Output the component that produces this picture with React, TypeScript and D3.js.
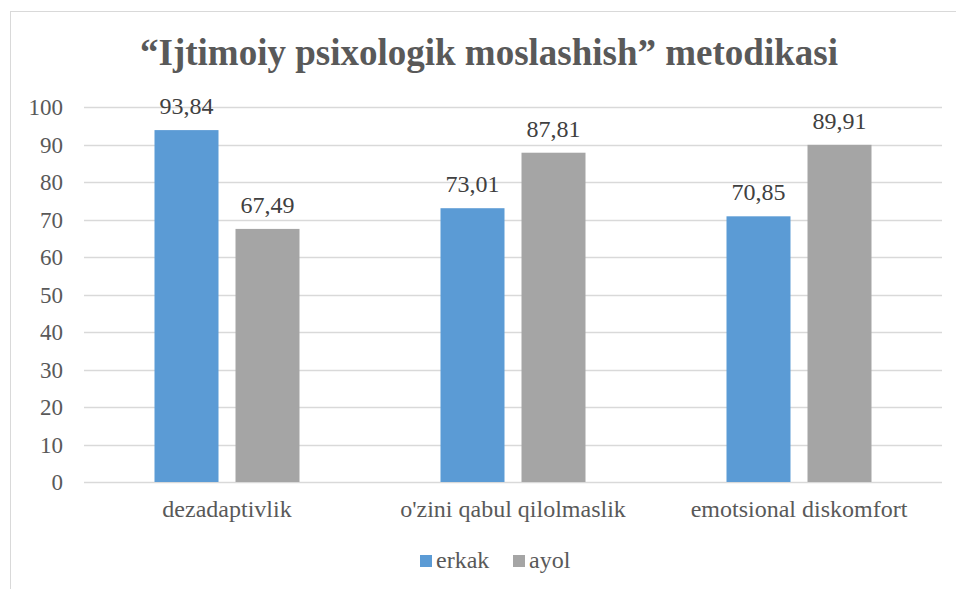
import React from "react";
import * as d3 from "d3";

const categories = ["dezadaptivlik", "o'zini qabul qilolmaslik", "emotsional diskomfort"];
const seriesNames = ["erkak", "ayol"];
const erkak = [93.84, 73.01, 70.85];
const ayol = [67.49, 87.81, 89.91];
const yTicks = [0, 10, 20, 30, 40, 50, 60, 70, 80, 90, 100];
const colors = ["#5B9BD5", "#A5A5A5"];

const W = 956;
const H = 589;
const FONT = "Liberation Serif";
const margin = { top: 107, right: 14, bottom: 107, left: 84 };

const App = () => {
  const x = d3
    .scaleBand()
    .domain(categories)
    .range([margin.left, W - margin.right]);

  const y = d3
    .scaleLinear()
    .domain([0, 100])
    .range([H - margin.bottom, margin.top]);

  const barW = 64;
  const gap = 17;
  const series = [erkak, ayol];
  const legendX = [420, 513];

  return (
    <svg
      width={W}
      height={H}
      style={{ position: "absolute", left: 0, top: 0, background: "#fff", fontFamily: FONT }}
    >
      {/* chart border */}
      <rect x={10.5} y={11.5} width={980} height={640} fill="#fff" stroke="#d9d9d9" />

      <text
        x={489}
        y={65}
        textAnchor="middle"
        fontFamily={FONT}
        fontWeight="bold"
        fontSize={37}
        fill="#595959"
      >
        “Ijtimoiy psixologik moslashish” metodikasi
      </text>

      {/* gridlines */}
      {yTicks.map((d) => (
        <line
          key={"g" + d}
          x1={margin.left}
          x2={W - margin.right}
          y1={Math.round(y(d)) + 0.5}
          y2={Math.round(y(d)) + 0.5}
          stroke="#d9d9d9"
          strokeWidth={1.3}
        />
      ))}

      {/* y tick labels */}
      {yTicks.map((d) => (
        <text
          key={"t" + d}
          x={63}
          y={y(d) + 8}
          textAnchor="end"
          fontFamily={FONT}
          fontSize={23}
          fill="#595959"
        >
          {d}
        </text>
      ))}

      {series.map((vals, si) => {
        const offset = si === 0 ? -gap / 2 - barW : gap / 2;
        return (
          <g key={"s" + si}>
            {vals.map((v, i) => {
              const bx = x(categories[i])! + x.bandwidth() / 2 + offset;
              return (
                <g key={i}>
                  <rect x={bx} y={y(v)} width={barW} height={y(0) - y(v)} fill={colors[si]} />
                  <text
                    x={bx + barW / 2}
                    y={y(v) - 16}
                    textAnchor="middle"
                    fontFamily={FONT}
                    fontSize={24}
                    fill="#404040"
                  >
                    {v.toFixed(2).replace(".", ",")}
                  </text>
                </g>
              );
            })}
          </g>
        );
      })}

      {/* category labels */}
      {categories.map((c) => (
        <text
          key={c}
          x={x(c)! + x.bandwidth() / 2}
          y={517}
          textAnchor="middle"
          fontFamily={FONT}
          fontSize={24}
          fill="#595959"
        >
          {c}
        </text>
      ))}

      {/* legend */}
      {seriesNames.map((name, i) => (
        <g key={name}>
          <rect x={legendX[i]} y={555} width={12} height={12} fill={colors[i]} />
          <text x={legendX[i] + 16} y={568} fontFamily={FONT} fontSize={24} fill="#595959">
            {name}
          </text>
        </g>
      ))}
    </svg>
  );
};

export default App;
